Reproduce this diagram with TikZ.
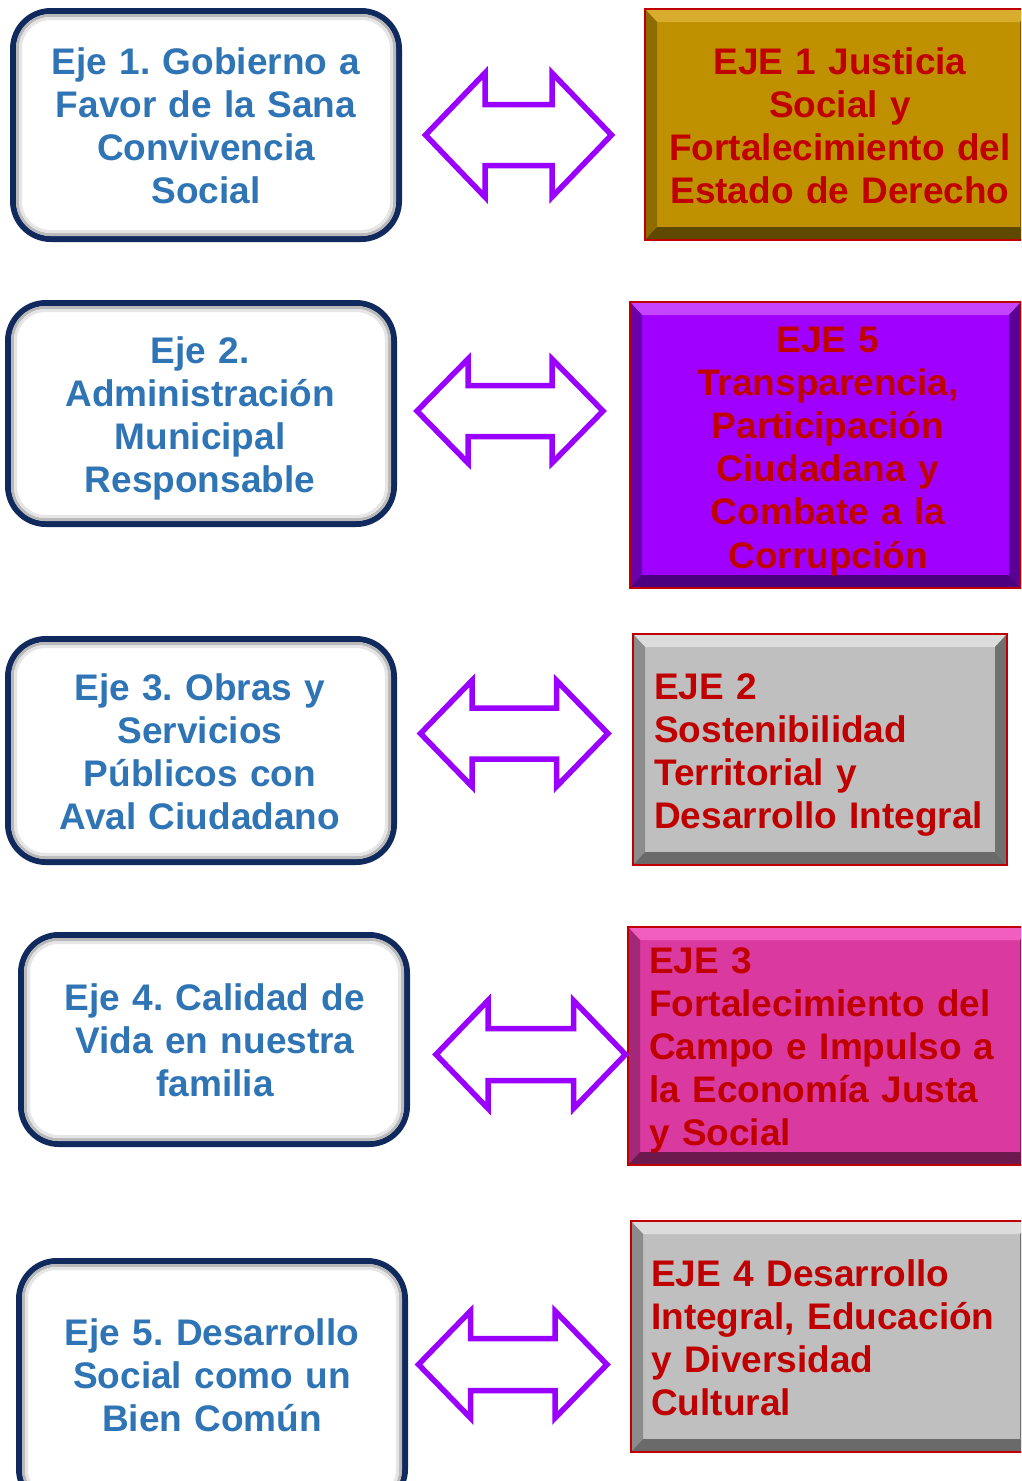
\documentclass[tikz,border=0pt]{standalone}
\usepackage{fontspec}
\setmainfont{Liberation Sans}
\frenchspacing
\definecolor{txtblue}{HTML}{2F74B5}
\definecolor{navy}{HTML}{102A5E}
\definecolor{txtred}{HTML}{C00000}
\definecolor{arrowpurple}{HTML}{9900FF}
\definecolor{goldM}{HTML}{BF9000}
\definecolor{goldT}{HTML}{D8AC2C}
\definecolor{goldL}{HTML}{8F6C00}
\definecolor{goldB}{HTML}{5F4800}
\definecolor{goldR}{HTML}{7A5C00}
\definecolor{purpM}{HTML}{9F00FF}
\definecolor{purpT}{HTML}{C545FF}
\definecolor{purpL}{HTML}{6A00AA}
\definecolor{purpB}{HTML}{4C0080}
\definecolor{purpR}{HTML}{5A0095}
\definecolor{grayM}{HTML}{BFBFBF}
\definecolor{grayT}{HTML}{DCDCDC}
\definecolor{grayL}{HTML}{8C8C8C}
\definecolor{grayB}{HTML}{6A6A6A}
\definecolor{grayR}{HTML}{707070}
\definecolor{magM}{HTML}{DA3A9F}
\definecolor{magT}{HTML}{F25EC0}
\definecolor{magL}{HTML}{A32877}
\definecolor{magB}{HTML}{6C1A4E}
\definecolor{magR}{HTML}{85205F}
\newcommand\halo[4]{%
  \draw[gray!55, line width=3, rounded corners=33] (#1+7.5,#2+7.5) rectangle (#3-7.5,#4-7.5);
  \draw[gray!20, line width=3, rounded corners=30] (#1+10.5,#2+10.5) rectangle (#3-10.5,#4-10.5);
}
\newcommand\bevbox[5]{%
  \path[fill=#5M] (#1,#2) rectangle (#3,#4);
  \path[fill=#5T] (#1,#2) -- (#3,#2) -- (#3-12,#2+13) -- (#1+12,#2+13) -- cycle;
  \path[fill=#5L] (#1,#2) -- (#1+12,#2+13) -- (#1+12,#4-13) -- (#1,#4) -- cycle;
  \path[fill=#5B] (#1,#4) -- (#1+12,#4-13) -- (#3-12,#4-13) -- (#3,#4) -- cycle;
  \path[fill=#5R] (#3,#2) -- (#3-12,#2+13) -- (#3-12,#4-13) -- (#3,#4) -- cycle;
  \draw[ejeborder] (#1,#2) rectangle (#3,#4);
}
\newcommand\dblarrow[6]{% x1 x2 cy headhalf shafthalf headlen
  \draw[arrowshape] (#1,#3) -- (#1+#6,#3-#4) -- (#1+#6,#3-#5) -- (#2-#6,#3-#5)
    -- (#2-#6,#3-#4) -- (#2,#3) -- (#2-#6,#3+#4) -- (#2-#6,#3+#5)
    -- (#1+#6,#3+#5) -- (#1+#6,#3+#4) -- cycle;
}
\tikzset{
  axisbox/.style={draw=navy, line width=6, rounded corners=38, fill=white, inner sep=0},
  axistext/.style={font=\fontsize{37}{43.2}\selectfont\bfseries, text=txtblue, align=center, text width=390, inner sep=0, anchor=base},
  ejetextc/.style={font=\fontsize{37}{43.2}\selectfont\bfseries, text=txtred, align=center, text width=390, inner sep=0, anchor=base},
  ejetextl/.style={font=\fontsize{37}{43.2}\selectfont\bfseries, text=txtred, align=left, text width=370, inner sep=0, anchor=base west},
  ejeborder/.style={draw=txtred, line width=1.5},
  arrowshape/.style={draw=arrowpurple, line width=5.5, fill=white, line join=miter},
}
\begin{document}
\begin{tikzpicture}[x=1pt,y=-1pt]
\useasboundingbox (0,0) rectangle (1021,1481);
\clip (0,0) rectangle (1021,1481);
\fill[white] (0,0) rectangle (1021,1481);

% left boxes
\node[axisbox, minimum width=386, minimum height=228] (b1) at (206,125) {};
\halo{10}{8}{402}{242}
\node[axisbox, minimum width=386, minimum height=221] (b2) at (201,413.5) {};
\halo{5}{300}{397}{527}
\node[axisbox, minimum width=386, minimum height=223] (b3) at (201,750.5) {};
\halo{5}{636}{397}{865}
\node[axisbox, minimum width=386, minimum height=209] (b4) at (214,1039.5) {};
\halo{18}{932}{410}{1147}
\node[axisbox, minimum width=386, minimum height=246] (b5) at (212,1384) {};
\halo{16}{1258}{408}{1510}

\node[axistext] (t1) at (206,74) {Eje 1. Gobierno a\\Favor de la Sana\\Convivencia\\Social};
\node[axistext] (t2) at (200,363) {Eje 2.\\Administración\\Municipal\\Responsable};
\node[axistext] (t3) at (200,700) {Eje 3. Obras y\\Servicios\\Públicos con\\Aval Ciudadano};
\node[axistext] (t4) at (215,1010) {Eje 4. Calidad de\\Vida en nuestra\\familia};
\node[axistext] (t5) at (212,1345) {Eje 5. Desarrollo\\Social como un\\Bien Común};

% right boxes
\bevbox{645}{9}{1032}{240}{gold}
\bevbox{630}{302}{1021}{588}{purp}
\bevbox{633}{634}{1007}{865}{gray}
\bevbox{628}{927}{1032}{1165}{mag}
\bevbox{631}{1221}{1032}{1452}{gray}

\node[ejetextc] (r1) at (840,74) {EJE 1 Justicia\\Social y\\Fortalecimiento del\\Estado de Derecho};
\node[ejetextc] (r2) at (828,352) {EJE 5\\Transparencia,\\Participación\\Ciudadana y\\Combate a la\\Corrupción};
\node[ejetextl] (r3) at (654,699) {EJE 2\\Sostenibilidad\\Territorial y\\Desarrollo Integral};
\node[ejetextl] (r4) at (649,973) {EJE 3\\Fortalecimiento del\\Campo e Impulso a\\la Economía Justa\\y Social};
\node[ejetextl] (r5) at (651,1286) {EJE 4 Desarrollo\\Integral, Educación\\y Diversidad\\Cultural};

% double arrows
\dblarrow{425.5}{611.5}{135}{62}{30.5}{59.5}
\dblarrow{417}{603}{411}{52}{25.5}{51}
\dblarrow{420.5}{608}{733.5}{53}{25.5}{51.5}
\dblarrow{436}{625.5}{1054.5}{54}{26}{52}
\dblarrow{418.5}{607}{1364.5}{53.5}{26}{52}
\end{tikzpicture}
\end{document}
